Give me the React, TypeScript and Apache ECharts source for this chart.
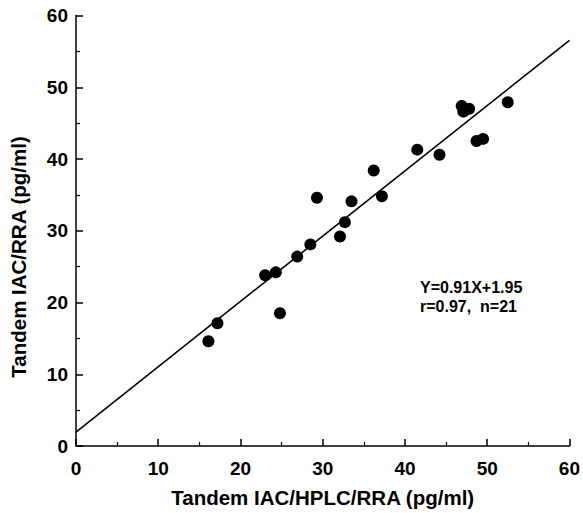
import React, { useEffect, useRef } from "react";
import * as echarts from "echarts";

const xValues = [16.1, 17.2, 23.0, 24.3, 24.8, 26.9, 28.5, 29.3, 32.1, 32.7, 33.5, 36.2, 37.2, 41.5, 44.2, 46.9, 47.1, 47.8, 48.7, 49.5, 52.5];
const yValues = [14.6, 17.1, 23.8, 24.2, 18.5, 26.4, 28.1, 34.6, 29.2, 31.2, 34.1, 38.4, 34.8, 41.3, 40.6, 47.4, 46.6, 47.0, 42.5, 42.8, 47.9];
const slope = 0.91;
const intercept = 1.95;
const lineX = [0, 60];
const annotation = ["Y=0.91X+1.95", "r=0.97,  n=21"];
const xTitle = "Tandem IAC/HPLC/RRA (pg/ml)";
const yTitle = "Tandem IAC/RRA (pg/ml)";

const FONT = "Liberation Sans, Arial, sans-serif";

export default function App() {
  const ref = useRef<HTMLDivElement>(null);
  useEffect(() => {
    if (!ref.current) return;
    const chart = echarts.init(ref.current, null, { renderer: "svg" });
    const axisCommon = {
      min: 0,
      max: 60,
      interval: 10,
      axisLine: { show: true, lineStyle: { color: "#000", width: 1.5 } },
      axisTick: { show: true, inside: true, length: 7, lineStyle: { color: "#000", width: 1.5 } },
      minorTick: { show: true, splitNumber: 2, length: 4, lineStyle: { color: "#000", width: 1.2 } },
      splitLine: { show: false },
      nameLocation: "middle" as const,
      nameTextStyle: { fontFamily: FONT, fontWeight: "bold" as const, fontSize: 20.5, color: "#000" },
      axisLabel: { fontFamily: FONT, fontWeight: "bold" as const, fontSize: 19, color: "#000" },
    };
    chart.setOption({
      animation: false,
      backgroundColor: "#fff",
      grid: { left: 76, right: 10, top: 15.5, bottom: 66 },
      xAxis: {
        ...axisCommon,
        type: "value",
        name: xTitle,
        nameGap: 41,
        axisLabel: { ...axisCommon.axisLabel, margin: 13 },
      },
      yAxis: {
        ...axisCommon,
        type: "value",
        axisLabel: { ...axisCommon.axisLabel, margin: 8 },
      },
      series: [
        {
          type: "line",
          data: lineX.map((x) => [x, slope * x + intercept]),
          symbol: "none",
          lineStyle: { color: "#000", width: 1.6 },
          z: 1,
        },
        {
          type: "scatter",
          data: xValues.map((x, i) => [x, yValues[i]]),
          symbolSize: 12,
          itemStyle: { color: "#000", opacity: 1 },
          z: 2,
        },
      ],
      graphic: [
        {
          type: "text",
          x: 18,
          y: 257,
          rotation: Math.PI / 2,
          style: {
            text: yTitle,
            fontFamily: FONT,
            fontWeight: "bold",
            fontSize: 20.5,
            fill: "#000",
            align: "center",
            verticalAlign: "middle",
          },
        },
        {
          type: "text",
          left: 420,
          top: 279,
          style: { text: annotation[0], fontFamily: FONT, fontWeight: "bold", fontSize: 16, fill: "#000" },
        },
        {
          type: "text",
          left: 420,
          top: 298,
          style: { text: annotation[1], fontFamily: FONT, fontWeight: "bold", fontSize: 16, fill: "#000" },
        },
      ],
    });
    return () => chart.dispose();
  }, []);
  return <div ref={ref} style={{ width: 583, height: 513, position: "absolute", left: 0, top: 0 }} />;
}
